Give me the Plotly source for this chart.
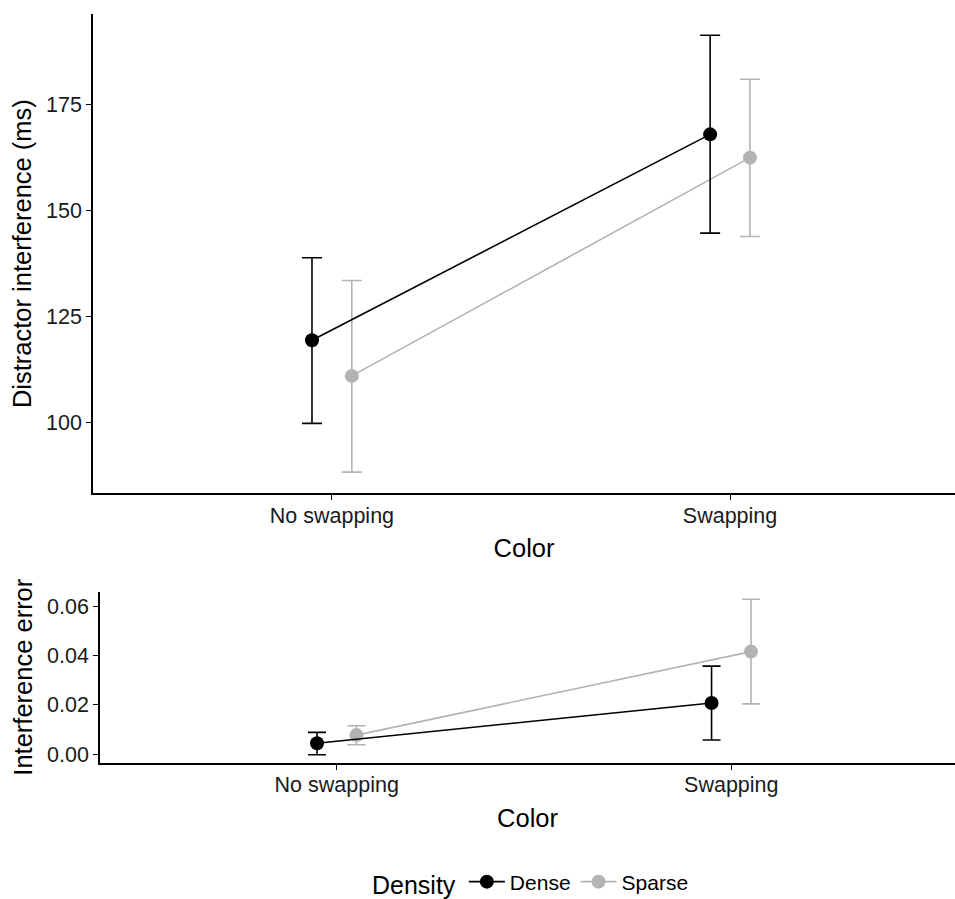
import plotly.graph_objects as go

categories = ["No swapping", "Swapping"]
groups = ["Dense", "Sparse"]

# Top panel: distractor interference (ms)
rt_dense = [119.4, 168.0]
rt_dense_lo = [99.8, 144.7]
rt_dense_hi = [138.9, 191.4]
rt_sparse = [111.0, 162.5]
rt_sparse_lo = [88.3, 143.9]
rt_sparse_hi = [133.5, 181.0]

# Bottom panel: interference error
err_dense = [0.0044, 0.0208]
err_dense_lo = [-0.0003, 0.0057]
err_dense_hi = [0.0088, 0.0358]
err_sparse = [0.0077, 0.0417]
err_sparse_lo = [0.0038, 0.0204]
err_sparse_hi = [0.0115, 0.0630]

colors = {"Dense": "#000000", "Sparse": "#B3B3B3"}
dodge = {"Dense": -0.05, "Sparse": 0.05}

W, H = 955, 899
FONT = "Liberation Sans, Arial, sans-serif"

fig = go.Figure()

def add(name, y, lo, hi, xaxis, yaxis, showlegend, cap):
    xs = [i + 1 + dodge[name] for i in range(len(categories))]
    fig.add_trace(go.Scatter(
        x=xs, y=y, mode="lines+markers", name=name,
        xaxis=xaxis, yaxis=yaxis, showlegend=showlegend,
        legendrank=1 if name == "Dense" else 2,
        line=dict(color=colors[name], width=1.6),
        marker=dict(color=colors[name], size=14),
        error_y=dict(type="data", symmetric=False,
                     array=[h - v for h, v in zip(hi, y)],
                     arrayminus=[v - l for v, l in zip(y, lo)],
                     color=colors[name], thickness=1.6, width=cap),
    ))

add("Sparse", rt_sparse, rt_sparse_lo, rt_sparse_hi, "x", "y", True, 10)
add("Dense", rt_dense, rt_dense_lo, rt_dense_hi, "x", "y", True, 10)
add("Sparse", err_sparse, err_sparse_lo, err_sparse_hi, "x2", "y2", False, 9)
add("Dense", err_dense, err_dense_lo, err_dense_hi, "x2", "y2", False, 9)

axis_common = dict(showline=True, linecolor="black", linewidth=1.6,
                   ticks="outside", ticklen=5, tickwidth=1.4, tickcolor="black",
                   showgrid=False, zeroline=False, automargin=False,
                   tickfont=dict(family=FONT, size=21.5, color="#1a1a1a"),
                   title_font=dict(family=FONT, size=25.5, color="black"))

fig.update_layout(
    width=W, height=H,
    margin=dict(l=0, r=0, t=0, b=0, autoexpand=False),
    paper_bgcolor="white", plot_bgcolor="white",
    font=dict(family=FONT, color="black"),
    xaxis=dict(domain=[93 / W, 1], anchor="y", range=[0.4, 2.565],
               tickvals=[1, 2], ticktext=categories, ticklabelstandoff=-3,
               title=dict(text="Color", standoff=12), **axis_common),
    yaxis=dict(domain=[(H - 493.3) / H, (H - 14) / H], anchor="x",
               range=[83.3, 196.4], tickvals=[100, 125, 150, 175],
               title=dict(text="Distractor interference (ms)", standoff=7),
               **axis_common),
    xaxis2=dict(domain=[100 / W, 1], anchor="y2", range=[0.4, 2.567],
                tickvals=[1, 2], ticktext=categories, ticklabelstandoff=-3,
                title=dict(text="Color", standoff=13), **axis_common),
    yaxis2=dict(domain=[(H - 762.7) / H, (H - 591.7) / H], anchor="x2",
                range=[-0.00354, 0.0661], tickvals=[0, 0.02, 0.04, 0.06],
                tickformat=".2f",
                title=dict(text="Interference error", standoff=7),
                **axis_common),
    legend=dict(orientation="h", x=370 / W, xanchor="left",
                y=(H - 883) / H, yanchor="middle",
                title=dict(text="Density", side="left",
                           font=dict(family=FONT, size=25, color="black")),
                font=dict(family=FONT, size=21, color="black"),
                itemwidth=36, tracegroupgap=0),
)

fig.write_html("out.html")
